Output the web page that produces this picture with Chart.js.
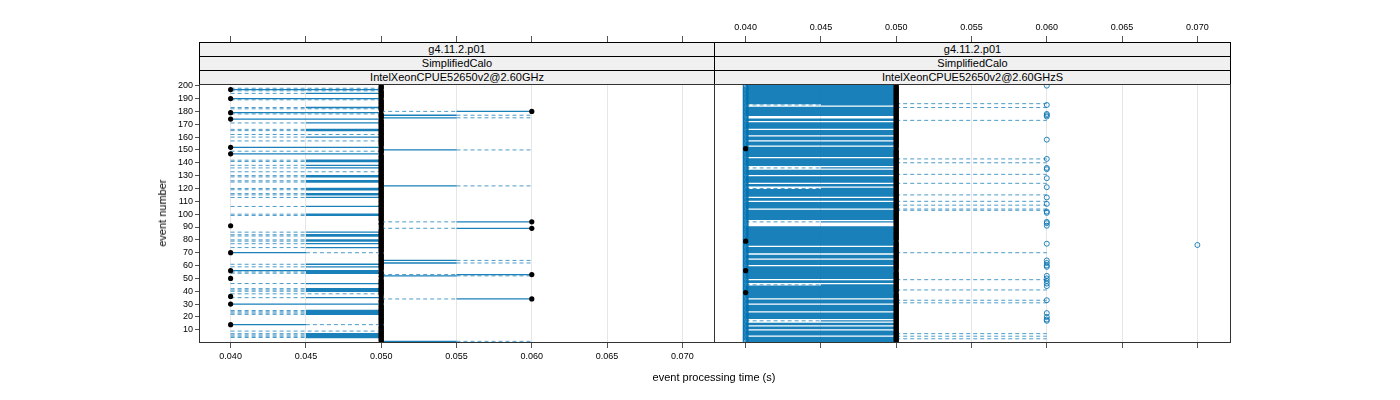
<!DOCTYPE html>
<html>
<head>
<meta charset="utf-8">
<script src="https://cdn.jsdelivr.net/npm/chart.js@4.4.1/dist/chart.umd.min.js"></script>
<style>
  body { margin: 0; background: #fff; }
  #wrap { position: relative; width: 1400px; height: 400px; font-family: "Liberation Sans", Arial, sans-serif; color: #000; }
  canvas { position: absolute; left: 0; top: 0; }
  .strip { position: absolute; box-sizing: border-box; height: 15px; border: 1px solid #000; background: #f0f0f0;
           font-size: 11px; line-height: 13px; text-align: center; white-space: nowrap; }
  .panel { position: absolute; box-sizing: border-box; border: 1px solid #333; }
  .title { position: absolute; font-size: 11px; white-space: nowrap; }
</style>
</head>
<body>
<div id="wrap">
  <canvas id="leftChart" width="1400" height="400"></canvas>
  <canvas id="rightChart" width="1400" height="400"></canvas>

  <div class="strip" style="left:199px;top:42px;width:516px;">g4.11.2.p01</div>
  <div class="strip" style="left:199px;top:56px;width:516px;">SimplifiedCalo</div>
  <div class="strip" style="left:199px;top:70px;width:516px;">IntelXeonCPUE52650v2@2.60GHz</div>
  <div class="strip" style="left:714px;top:42px;width:517px;">g4.11.2.p01</div>
  <div class="strip" style="left:714px;top:56px;width:517px;">SimplifiedCalo</div>
  <div class="strip" style="left:714px;top:70px;width:517px;">IntelXeonCPUE52650v2@2.60GHzS</div>

  <div class="panel" style="left:199px;top:84px;width:516px;height:259px;"></div>
  <div class="panel" style="left:714px;top:84px;width:517px;height:259px;"></div>

  <div class="title" style="left:0;top:371px;width:1428px;text-align:center;">event processing time (s)</div>
  <div class="title" style="left:162px;top:213px;transform:translate(-50%,-50%) rotate(-90deg);">event number</div>
</div>

<script>
// event numbers 1..200 on the y axis
const events = Array.from({ length: 200 }, (_, i) => i + 1);
const xTicks = [0.040, 0.045, 0.050, 0.055, 0.060, 0.065, 0.070];
const yTicks = [10, 20, 30, 40, 50, 60, 70, 80, 90, 100, 110, 120, 130, 140, 150, 160, 170, 180, 190, 200];

// times in ms, one entry per event (left panel: IntelXeonCPUE52650v2@2.60GHz)
const leftLo = [
  50,50,50,40,40,40,40,50,40,50, 50,50,50,40,50,50,50,50,50,50,
  50,40,40,40,40,50,50,50,50,40, 50,50,50,50,40,40,50,40,50,40,
  40,40,50,50,50,40,50,50,50,40, 50,50,50,40,40,40,50,50,40,50,
  40,50,50,50,50,50,50,50,50,40, 50,50,50,40,50,50,40,50,40,40,
  50,50,40,40,50,40,50,50,50,50, 40,50,50,50,50,50,50,50,40,40,
  50,50,50,50,50,40,50,50,50,50, 50,50,40,50,40,40,50,50,40,40,
  50,50,50,50,40,40,50,50,40,40, 50,50,40,50,50,40,50,40,50,50,
  40,40,50,50,50,50,40,50,40,50, 50,40,50,50,50,50,40,50,50,40,
  50,40,50,50,40,40,50,50,50,50, 40,50,50,40,50,50,50,40,40,50,
  50,40,40,50,50,50,50,50,40,40, 50,50,50,40,50,40,40,40,50,50
];
const leftQ1 = [
  50,50,50,45,45,45,45,50,50,50, 50,50,50,40,50,50,50,50,50,50,
  50,45,45,45,45,50,50,50,50,40, 50,50,50,55,45,40,50,50,50,45,
  45,45,50,50,50,45,50,50,50,40, 50,50,55,45,45,40,50,50,45,50,
  45,50,50,50,50,50,50,50,50,40, 50,50,50,45,50,50,45,50,45,45,
  50,50,45,45,50,45,50,50,55,50, 40,50,50,55,50,50,50,50,45,45,
  50,50,50,50,50,45,50,50,50,50, 50,50,45,50,45,45,50,50,45,45,
  50,50,50,50,45,45,50,50,45,45, 50,50,50,50,50,45,50,45,50,50,
  45,45,50,50,50,50,40,50,50,50, 50,40,50,50,50,50,50,50,50,45,
  50,50,50,50,45,45,50,50,50,50, 45,50,50,40,50,50,50,50,40,55,
  50,50,45,50,50,50,50,50,50,40, 50,50,50,45,50,50,40,50,50,50
];
const leftQ3 = [
  55,50,50,50,50,50,50,50,50,50, 50,50,50,45,50,50,50,50,50,50,
  50,50,50,50,50,50,50,50,50,50, 50,50,50,60,50,40,50,50,50,50,
  50,50,50,50,50,50,50,50,50,40, 50,55,60,50,50,50,50,50,50,50,
  50,55,50,55,50,50,50,50,50,45, 50,50,50,50,50,50,50,50,50,50,
  50,50,50,50,50,50,50,50,60,50, 40,50,50,60,50,50,50,50,50,50,
  50,50,50,50,50,50,50,50,50,50, 50,50,50,50,50,50,50,50,50,50,
  50,55,50,50,50,50,50,50,50,50, 50,50,50,50,50,50,50,50,50,50,
  50,50,50,50,50,50,50,50,50,55, 50,50,50,50,50,50,50,50,50,50,
  50,50,50,50,50,50,50,50,50,50, 50,50,50,50,55,50,55,50,50,60,
  50,50,50,50,50,50,50,50,50,50, 50,50,50,50,50,50,50,50,50,50
];
const leftHi = [
  60,50,50,50,50,50,50,50,50,50, 50,50,50,50,50,50,50,50,50,50,
  50,50,50,50,50,50,50,50,50,50, 50,50,50,60,50,40,50,50,50,50,
  50,50,50,50,50,50,50,50,50,40, 50,60,60,50,50,50,50,50,50,50,
  50,60,50,60,50,50,50,50,50,50, 50,50,50,50,50,50,50,50,50,50,
  50,50,50,50,50,50,50,50,60,50, 40,50,50,60,50,50,50,50,50,50,
  50,50,50,50,50,50,50,50,50,50, 50,50,50,50,50,50,50,50,50,50,
  50,60,50,50,50,50,50,50,50,50, 50,50,50,50,50,50,50,50,50,50,
  50,50,50,50,50,50,50,50,50,60, 50,50,50,50,50,50,50,50,50,50,
  50,50,50,50,50,50,50,50,50,50, 50,50,50,50,60,50,60,50,50,60,
  50,50,50,50,50,50,50,50,50,50, 50,50,50,50,50,50,50,50,50,50
];
const leftMed = [
  50,50,50,50,50,50,50,50,50,50, 50,50,50,40,50,50,50,50,50,50,
  50,50,50,50,50,50,50,50,50,40, 50,50,50,60,50,40,50,50,50,50,
  50,50,50,50,50,50,50,50,50,40, 50,50,60,50,50,40,50,50,50,50,
  50,50,50,50,50,50,50,50,50,40, 50,50,50,50,50,50,50,50,50,50,
  50,50,50,50,50,50,50,50,60,50, 40,50,50,60,50,50,50,50,50,50,
  50,50,50,50,50,50,50,50,50,50, 50,50,50,50,50,50,50,50,50,50,
  50,50,50,50,50,50,50,50,50,50, 50,50,50,50,50,50,50,50,50,50,
  50,50,50,50,50,50,40,50,50,50, 50,40,50,50,50,50,50,50,50,50,
  50,50,50,50,50,50,50,50,50,50, 50,50,50,40,50,50,50,50,40,60,
  50,50,50,50,50,50,50,50,50,40, 50,50,50,50,50,50,40,50,50,50
];

// right panel: IntelXeonCPUE52650v2@2.60GHzS
const rightLo = [
  40,40,40,40,50,40,40,40,40,50, 40,40,50,40,40,50,40,50,40,40,
  40,40,40,50,40,40,40,40,40,50, 40,40,40,50,40,40,40,40,40,40,
  40,40,40,40,40,50,40,40,50,40, 40,40,40,40,40,40,40,40,40,50,
  40,40,40,40,50,40,40,40,50,40, 40,40,40,40,50,40,40,40,40,40,
  40,40,40,40,40,40,40,40,40,40, 50,50,50,40,50,40,40,40,40,40,
  40,40,40,50,40,40,40,40,40,50, 40,40,50,40,40,40,40,40,40,40,
  50,40,40,50,40,40,40,40,40,50, 40,40,40,40,50,40,50,40,40,40,
  40,40,40,50,40,40,40,40,40,40, 40,40,50,40,40,40,50,40,40,40,
  50,40,40,40,40,50,40,40,40,40, 40,50,40,40,50,50,40,40,40,40,
  40,40,40,50,40,40,40,40,40,40, 40,40,40,40,40,40,40,40,40,40
];
const rightQ1 = [
  40,40,40,40,50,40,40,40,40,50, 40,40,50,40,40,50,45,50,40,40,
  40,40,40,50,40,40,40,40,40,50, 40,40,40,50,40,40,40,40,40,40,
  40,40,40,40,45,50,40,40,50,40, 40,40,40,40,40,40,40,40,40,50,
  40,40,40,40,50,40,40,40,50,40, 40,40,40,40,50,40,40,40,40,40,
  40,40,40,40,40,40,40,40,40,40, 50,50,50,45,50,40,40,40,40,40,
  40,40,40,50,40,40,40,40,40,50, 40,40,50,40,40,40,40,40,40,45,
  50,40,40,50,40,40,40,40,40,50, 40,40,40,40,50,45,50,40,40,40,
  40,40,40,50,40,40,40,40,40,40, 40,40,50,40,40,40,50,40,40,40,
  50,40,40,40,40,50,40,40,40,40, 40,50,40,40,50,50,40,40,40,40,
  40,40,40,50,45,40,40,40,40,40, 40,40,40,40,40,40,40,40,40,40
];
const rightQ3 = [
  50,50,50,50,50,50,50,50,50,50, 50,50,50,50,50,50,50,50,50,50,
  50,50,50,50,50,50,50,50,50,50, 50,50,50,50,50,50,50,50,50,50,
  50,50,50,50,50,50,50,50,50,50, 50,50,50,50,50,50,50,50,50,50,
  50,50,50,50,50,50,50,50,50,50, 50,50,50,50,50,50,50,50,50,50,
  50,50,50,50,50,50,50,50,50,50, 50,50,50,50,50,50,50,50,50,50,
  50,50,50,50,50,50,50,50,50,50, 50,50,50,50,50,50,50,50,50,50,
  50,50,50,50,50,50,50,50,50,50, 50,50,50,50,50,50,50,50,50,50,
  50,50,50,50,50,50,50,50,50,50, 50,50,50,50,50,50,50,50,50,50,
  50,50,50,50,50,50,50,50,50,50, 50,50,50,50,50,50,50,50,50,50,
  50,50,50,50,50,50,50,50,50,50, 50,50,50,50,50,50,50,50,50,50
];
const rightHi = [
  50,50,60,50,60,50,60,50,50,50, 50,50,50,50,50,50,50,50,50,50,
  50,50,50,50,50,50,50,50,50,50, 60,50,60,50,50,50,50,50,50,50,
  60,50,50,50,50,50,50,50,60,50, 50,50,50,50,50,50,50,50,50,50,
  50,50,50,50,50,50,50,50,50,60, 50,50,50,50,50,50,50,50,50,50,
  50,50,50,50,50,50,50,50,50,50, 50,50,50,50,50,50,50,50,50,50,
  50,50,60,60,50,50,60,50,50,60, 50,50,50,50,60,50,50,50,50,50,
  50,50,50,60,50,50,50,50,50,50, 60,50,50,50,50,50,50,50,50,60,
  50,50,60,50,50,50,50,50,50,50, 50,50,50,50,50,50,50,50,50,50,
  50,50,50,50,50,50,50,50,50,50, 50,50,60,50,50,50,50,50,50,50,
  50,50,60,50,50,60,50,50,50,50, 50,50,50,50,50,50,50,50,50,50
];
const rightMed = [
  50,50,50,50,50,50,50,50,50,50, 50,50,50,50,50,50,50,50,50,50,
  50,50,50,50,50,50,50,50,50,50, 50,50,50,50,50,50,50,50,40,50,
  50,50,50,50,50,50,50,50,50,50, 50,50,50,50,50,40,50,50,50,50,
  50,50,50,50,50,50,50,50,50,50, 50,50,50,50,50,50,50,50,40,50,
  50,50,50,50,50,50,50,50,50,50, 50,50,50,50,50,50,50,50,50,50,
  50,50,50,50,50,50,50,50,50,50, 50,50,50,50,50,50,50,50,50,50,
  50,50,50,50,50,50,50,50,50,50, 50,50,50,50,50,50,50,50,50,50,
  50,50,50,50,50,50,50,50,50,50, 40,50,50,50,50,50,50,50,50,50,
  50,50,50,50,50,50,50,50,50,50, 50,50,50,50,50,50,50,50,50,50,
  50,50,50,50,50,50,50,50,50,50, 50,50,50,50,50,50,50,50,50,50
];
// open circles: fast outliers (one per event) and slow outliers
const rightLowOut = [
  40,40,40,40,40,40,40,40,40,40, 40,40,40,40,40,40,40,40,40,40,
  40,40,40,40,40,40,40,40,40,40, 40,40,40,40,40,40,40,40,40,40,
  40,40,40,40,40,40,40,40,40,40, 40,40,40,40,40,40,40,40,40,40,
  40,40,40,40,40,40,40,40,40,40, 40,40,40,40,40,40,40,40,40,40,
  40,40,40,40,40,40,40,40,40,40, 40,40,40,40,40,40,40,40,40,40,
  40,40,40,40,40,40,40,40,40,40, 40,40,40,40,40,40,40,40,40,40,
  40,40,40,40,40,40,40,40,40,40, 40,40,40,40,40,40,40,40,40,40,
  40,40,40,40,40,40,40,40,40,40, 40,40,40,40,40,40,40,40,40,40,
  40,40,40,40,40,40,40,40,40,40, 40,40,40,40,40,40,40,40,40,40,
  40,40,40,40,40,40,40,40,40,40, 40,40,40,40,40,40,40,40,40,40
];
const rightHighEvents = [17, 18, 20, 23, 33, 44, 46, 48, 50, 52, 59, 60, 62, 64, 76, 77, 91, 93, 94,
  101, 102, 108, 113, 121, 128, 135, 136, 143, 158, 176, 177, 178, 185, 200];
const rightHighValues = [60, 60, 60, 60, 60, 60, 60, 60, 60, 60, 60, 60, 60, 60, 70, 60, 60, 60, 60,
  60, 60, 60, 60, 60, 60, 60, 60, 60, 60, 60, 60, 60, 60, 60];

const FONT = "'Liberation Sans', Arial, sans-serif";
const solidBlue = "rgba(0,114,178,0.9)";
const dashBlue = "rgba(0,114,178,0.7)";
const xMin = 0.0379, xMax = 0.0721;
const yMin = 0.5, yMax = 234;   // top part of the area sits under the strips

function buildMarks(lo, q1, q3, hi, med) {
  const solid = [], dashed = [], mid = [];
  const seg = (arr, a, b, e) => {
    arr.push({ x: a / 1000, y: e }, { x: b / 1000, y: e }, { x: b / 1000, y: null });
  };
  events.forEach((e, i) => {
    if (q1[i] < q3[i]) seg(solid, q1[i], q3[i], e);
    if (lo[i] < q1[i]) seg(dashed, lo[i], q1[i], e);
    if (q3[i] < hi[i]) seg(dashed, q3[i], hi[i], e);
    mid.push({ x: med[i] / 1000, y: e });
  });
  return { solid, dashed, mid };
}

function baseDatasets(m) {
  return [
    { data: m.mid, showLine: false, pointRadius: 2.6, pointBackgroundColor: "#000", pointBorderWidth: 0, order: 0 },
    { data: m.solid, borderColor: solidBlue, borderWidth: 1.3, pointRadius: 0, order: 2 },
    { data: m.dashed, borderColor: dashBlue, borderWidth: 1, borderDash: [4, 3], pointRadius: 0, order: 3 }
  ];
}

function makeScales(isLeft) {
  const tickFont = { family: FONT, size: 9 };
  const setX = s => { s.ticks = xTicks.map(v => ({ value: v })); };
  return {
    x: {
      type: "linear", position: "bottom", min: xMin, max: xMax,
      afterBuildTicks: setX,
      afterFit: s => { s.height = 58; },
      grid: { color: "#e6e6e6", tickColor: "#555", tickLength: 6 },
      border: { display: false },
      ticks: { display: isLeft, font: tickFont, color: "#000", padding: 3, maxRotation: 0, autoSkip: false,
               callback: v => v.toFixed(3) }
    },
    x2: {
      type: "linear", position: "top", min: xMin, max: xMax,
      afterBuildTicks: setX,
      afterFit: s => { s.height = 42; },
      grid: { drawOnChartArea: false, tickColor: "#555", tickLength: 6 },
      border: { display: false },
      ticks: { display: !isLeft, font: tickFont, color: "#000", padding: 3, maxRotation: 0, autoSkip: false,
               callback: v => v.toFixed(3) }
    },
    y: {
      type: "linear", display: isLeft, min: yMin, max: yMax,
      afterBuildTicks: s => { s.ticks = yTicks.map(v => ({ value: v })); },
      afterFit: s => { s.width = isLeft ? 199 : 0; },
      grid: { drawOnChartArea: false, tickColor: "#555", tickLength: 4 },
      border: { display: false },
      ticks: { font: tickFont, color: "#000", padding: 2 }
    }
  };
}

function makeChart(canvasId, datasets, isLeft) {
  datasets.forEach(d => { d.xAxisID = "x"; d.yAxisID = "y"; });
  return new Chart(document.getElementById(canvasId), {
    type: "line",
    data: { datasets },
    options: {
      responsive: false,
      animation: false,
      events: [],
      layout: { padding: isLeft ? { left: 0, right: 686, top: 0, bottom: 0 } : { left: 714, right: 171, top: 0, bottom: 0 } },
      plugins: { legend: { display: false }, tooltip: { enabled: false } },
      elements: { line: { tension: 0 } },
      scales: makeScales(isLeft)
    }
  });
}

const leftMarks = buildMarks(leftLo, leftQ1, leftQ3, leftHi, leftMed);
makeChart("leftChart", baseDatasets(leftMarks), true);

const rightMarks = buildMarks(rightLo, rightQ1, rightQ3, rightHi, rightMed);
const rightCircles = events.map((e, i) => ({ x: rightLowOut[i] / 1000, y: e }))
  .concat(rightHighEvents.map((e, i) => ({ x: rightHighValues[i] / 1000, y: e })));
const rightSets = baseDatasets(rightMarks);
rightSets.push({ data: rightCircles, showLine: false, pointRadius: 2.5, pointBorderWidth: 1,
  pointBorderColor: "rgba(0,114,178,0.85)", pointBackgroundColor: "rgba(0,0,0,0)", order: 1 });
makeChart("rightChart", rightSets, false);
</script>
</body>
</html>
